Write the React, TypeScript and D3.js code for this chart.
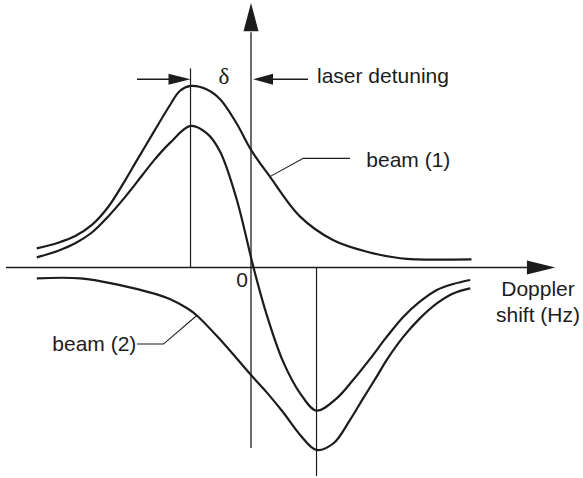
import React from "react";
import * as d3 from "d3";

// Doppler shift in units of the laser detuning; force in units of the single-beam peak.
const beam1Shift = [-3.4, -3.06, -2.79, -2.53, -2.27, -2.0, -1.84, -1.55, -1.29, -1.13, -0.96, -0.7, -0.49, -0.23, 0.0, 0.3, 0.78, 1.3, 1.84, 2.37, 2.63, 3.5];
const beam1Force = [0.106, 0.137, 0.174, 0.234, 0.333, 0.48, 0.575, 0.745, 0.895, 0.975, 1.003, 0.984, 0.93, 0.797, 0.65, 0.502, 0.281, 0.152, 0.087, 0.051, 0.045, 0.045];

const totalShift = [-3.4, -3.06, -2.79, -2.53, -2.27, -2.0, -1.73, -1.52, -1.29, -0.96, -0.7, -0.49, -0.23, 0.04, 0.25, 0.51, 0.78, 1.04, 1.36, 1.62, 1.89, 2.15, 2.42, 2.68, 2.95, 3.21, 3.48];
const totalForce = [0.056, 0.093, 0.134, 0.192, 0.281, 0.389, 0.508, 0.6, 0.687, 0.782, 0.741, 0.64, 0.38, 0, -0.262, -0.52, -0.695, -0.791, -0.723, -0.622, -0.505, -0.385, -0.272, -0.189, -0.124, -0.091, -0.069];

const beam2Shift = [-3.4, -2.71, -2.08, -1.55, -1.29, -1.02, -0.86, -0.49, 0.0, 0.25, 0.51, 0.78, 1.04, 1.31, 1.57, 1.78, 2.0, 2.15, 2.42, 2.68, 2.95, 3.21, 3.48];
const beam2Force = [-0.06, -0.06, -0.097, -0.143, -0.174, -0.224, -0.265, -0.398, -0.594, -0.69, -0.8, -0.925, -1.008, -0.971, -0.843, -0.723, -0.6, -0.513, -0.382, -0.281, -0.198, -0.143, -0.115];

// Resonance positions of the two beams (± detuning)
const beam1Resonance = -0.96;
const beam2Resonance = 1.04;

const axisLabelLines = ["Doppler", "shift (Hz)"];
const originLabel = "0";
const detuningSymbol = "δ";
const detuningLabel = "laser detuning";
const beam1Label = "beam (1)";
const beam2Label = "beam (2)";

const W = 583;
const H = 478;
const INK = "#1c1c1c";
const SANS = "'Liberation Sans', Arial, Helvetica, sans-serif";
const SERIF = "'Liberation Serif', 'Times New Roman', serif";

const x = d3.scaleLinear().domain([0, 1]).range([251, 314]);
const y = d3.scaleLinear().domain([0, 1]).range([267.5, 86.5]);

const line = d3
  .line<[number, number]>()
  .x((d) => x(d[0]))
  .y((d) => y(d[1]))
  .curve(d3.curveCatmullRom.alpha(0.5));

const zip = (a: number[], b: number[]) => a.map((v, i) => [v, b[i]] as [number, number]);

export default function App() {
  const x0 = x(0);
  const y0 = y(0);
  const xL = x(beam1Resonance);
  const xR = x(beam2Resonance);
  const arrowY = y(1.04);

  const anchor1: [number, number] = [x(0.3), y(0.502)];
  const anchor2: [number, number] = [x(-0.86), y(-0.265)];

  return (
    <svg
      width={W}
      height={H}
      viewBox={`0 0 ${W} ${H}`}
      style={{ position: "absolute", left: 0, top: 0, background: "#fff" }}
    >
      {/* axes */}
      <line x1={6} y1={y0} x2={x(4.4)} y2={y0} stroke={INK} strokeWidth={1.3} />
      <path d={`M${x(4.83)},${y0} L${x(4.38)},${y0 - 7} L${x(4.38)},${y0 + 7} Z`} fill={INK} />
      <line x1={x0} y1={y(-0.997)} x2={x0} y2={y(1.3)} stroke={INK} strokeWidth={1.3} />
      <path d={`M${x0},${y(1.462)} L${x0 - 7.5},${y(1.305)} L${x0 + 7.5},${y(1.305)} Z`} fill={INK} />

      {/* resonance guide lines */}
      <line x1={xL} y1={y(1.1)} x2={xL} y2={y0} stroke={INK} strokeWidth={1.2} />
      <line x1={xR} y1={y0} x2={xR} y2={y(-1.152)} stroke={INK} strokeWidth={1.2} />

      {/* detuning arrows */}
      <line x1={x(-1.81)} y1={arrowY} x2={xL - 18} y2={arrowY} stroke={INK} strokeWidth={1.3} />
      <path d={`M${xL},${arrowY} L${xL - 22},${arrowY - 5.5} L${xL - 22},${arrowY + 5.5} Z`} fill={INK} />
      <line x1={x0 + 18} y1={arrowY} x2={x(0.905)} y2={arrowY} stroke={INK} strokeWidth={1.3} />
      <path d={`M${x0 + 2},${arrowY} L${x0 + 22},${arrowY - 5.5} L${x0 + 22},${arrowY + 5.5} Z`} fill={INK} />

      {/* force curves */}
      <path d={line(zip(beam1Shift, beam1Force)) || ""} fill="none" stroke={INK} strokeWidth={2.2} />
      <path d={line(zip(totalShift, totalForce)) || ""} fill="none" stroke={INK} strokeWidth={2.2} />
      <path d={line(zip(beam2Shift, beam2Force)) || ""} fill="none" stroke={INK} strokeWidth={2.2} />

      {/* leaders */}
      <polyline
        points={`${anchor1[0]},${anchor1[1]} ${x(0.83)},${y(0.603)} ${x(1.57)},${y(0.603)}`}
        fill="none"
        stroke={INK}
        strokeWidth={1.1}
      />
      <polyline
        points={`${anchor2[0]},${anchor2[1]} ${x(-1.39)},${y(-0.423)} ${x(-1.81)},${y(-0.423)}`}
        fill="none"
        stroke={INK}
        strokeWidth={1.1}
      />

      {/* text */}
      <g fontFamily={SANS} fontSize={21} fill={INK}>
        <text x={x(1.83)} y={166.7}>{beam1Label}</text>
        <text x={x(-1.82)} y={350.5} textAnchor="end">{beam2Label}</text>
        <text x={x0 + 66} y={83}>{detuningLabel}</text>
        <text x={x0 - 3} y={286.7} textAnchor="end">{originLabel}</text>
        <text x={538} y={296} textAnchor="middle">{axisLabelLines[0]}</text>
        <text x={538} y={321.7} textAnchor="middle">{axisLabelLines[1]}</text>
      </g>
      <text x={224} y={84} fontFamily={SERIF} fontSize={23} fill={INK} textAnchor="middle">
        {detuningSymbol}
      </text>
    </svg>
  );
}
